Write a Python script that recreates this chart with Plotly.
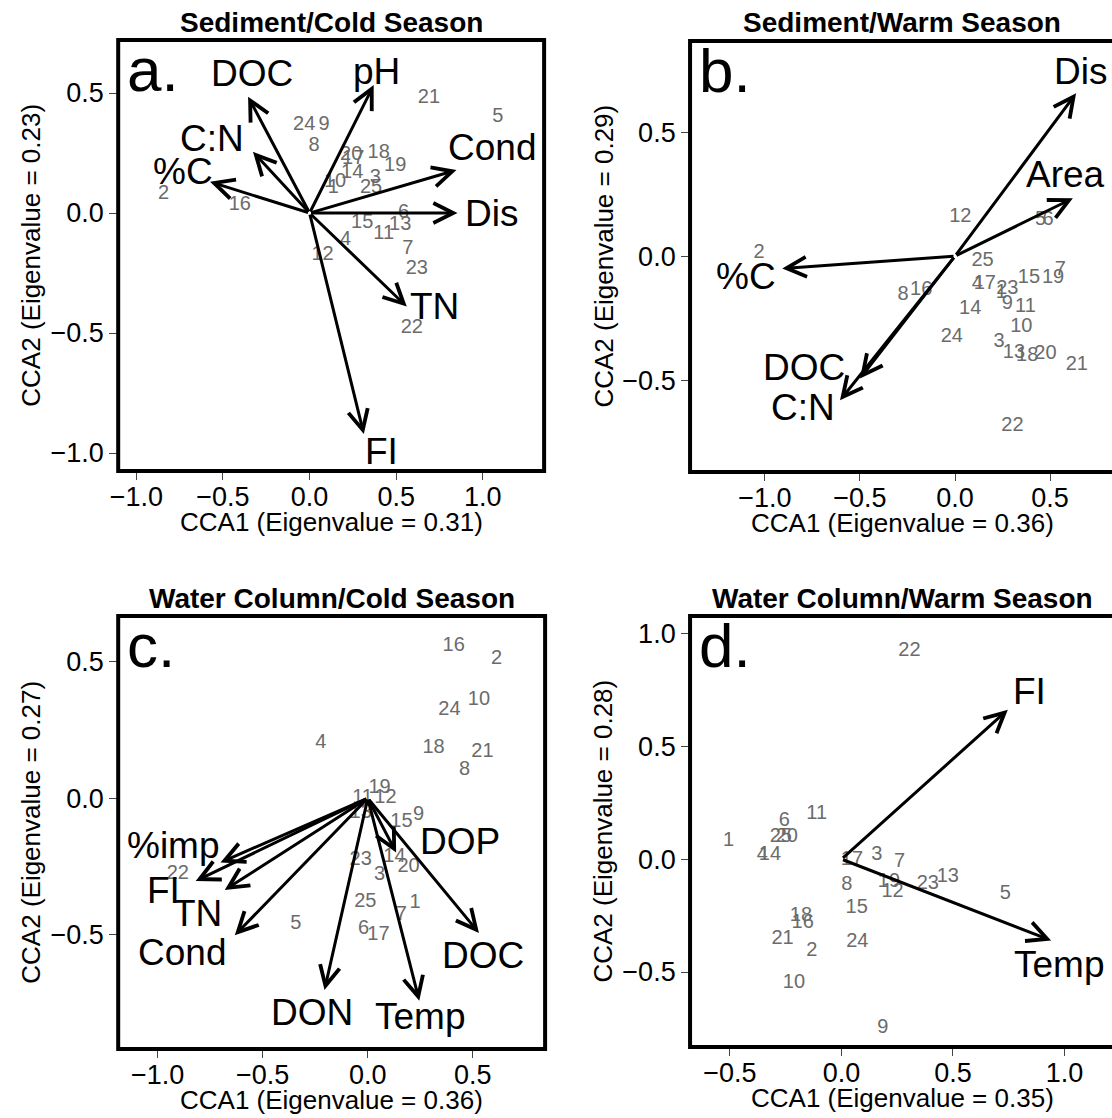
import plotly.graph_objects as go

FONT = "Liberation Sans, Arial, Helvetica, sans-serif"
W, H = 1112, 1118

# ---------------- data ----------------
sites = list(range(1, 26))

# Panel a: Sediment / Cold Season
a_site_x = [0.137, -0.843, 0.38, 0.208, 1.087, 0.542, 0.567, 0.026, 0.084, 0.147,
            0.428, 0.075, 0.523, 0.246, 0.304, -0.403, 0.252, 0.399, 0.494, 0.24,
            0.689, 0.59, 0.619, -0.031, 0.355]
a_site_y = [0.103, 0.079, 0.145, -0.113, 0.399, 0.001, -0.151, 0.279, 0.367, 0.13,
            -0.089, -0.175, -0.05, 0.165, -0.04, 0.033, 0.224, 0.249, 0.196, 0.242,
            0.478, -0.48, -0.235, 0.367, 0.103]
a_vars = ["DOC", "pH", "C:N", "%C", "Cond", "Dis", "TN", "FI"]
a_var_x = [-0.355, 0.370, -0.327, -0.575, 0.848, 0.854, 0.561, 0.313]
a_var_y = [0.485, 0.533, 0.255, 0.130, 0.179, 0.0, -0.390, -0.921]

# Panel b: Sediment / Warm Season
b_site_x = [0.244, -1.031, 0.232, 0.118, 0.450, 0.49, 0.554, -0.273, 0.275, 0.349,
            0.371, 0.028, 0.31, 0.08, 0.389, -0.178, 0.157, 0.38, 0.516, 0.476,
            0.641, 0.302, 0.275, -0.017, 0.145]
b_site_y = [-0.148, 0.011, -0.345, -0.113, 0.145, 0.145, -0.056, -0.157, -0.191, -0.285,
            -0.204, 0.156, -0.392, -0.215, -0.09, -0.137, -0.113, -0.403, -0.09, -0.395,
            -0.44, -0.685, -0.134, -0.325, -0.019]
b_vars = ["%C", "DOC", "C:N", "Area", "Dis"]
b_var_x = [-0.909, -0.5, -0.605, 0.62, 0.637]
b_var_y = [-0.05, -0.493, -0.581, 0.233, 0.656]

# Panel c: Water Column / Cold Season
c_site_x = [0.225, 0.613, 0.056, -0.223, -0.343, -0.02, 0.16, 0.461, 0.242, 0.529,
            -0.025, 0.084, -0.034, 0.127, 0.16, 0.409, 0.051, 0.313, 0.056, 0.194,
            0.546, -0.904, -0.034, 0.389, -0.012]
c_site_y = [-0.382, 0.51, -0.28, 0.203, -0.46, -0.48, -0.427, 0.105, -0.061, 0.361,
            0.0, 0.0, -0.055, -0.214, -0.088, 0.559, -0.499, 0.183, 0.037, -0.251,
            0.171, -0.277, -0.225, 0.324, -0.379]
c_vars = ["%imp", "FI", "TN", "Cond", "DON", "Temp", "DOP", "DOC"]
c_var_x = [-0.701, -0.819, -0.681, -0.633, -0.206, 0.245, 0.135, 0.529]
c_var_y = [-0.235, -0.303, -0.336, -0.502, -0.702, -0.741, -0.199, -0.493]

# Panel d: Water Column / Warm Season
d_site_x = [-0.506, -0.133, 0.158, -0.355, 0.735, -0.256, 0.261, 0.024, 0.185, -0.213,
            -0.111, 0.229, 0.477, -0.321, 0.068, -0.174, 0.047, -0.182, 0.213, -0.245,
            -0.264, 0.305, 0.387, 0.071, -0.272]
d_site_y = [0.079, -0.407, 0.02, 0.02, -0.156, 0.17, -0.014, -0.113, -0.75, -0.549,
            0.201, -0.145, -0.079, 0.02, -0.215, -0.281, -0.003, -0.252, -0.102, 0.099,
            -0.354, 0.92, -0.108, -0.365, 0.099]
d_vars = ["FI", "Temp"]
d_var_x = [0.746, 0.94]
d_var_y = [0.662, -0.36]

titles = ["Sediment/Cold Season", "Sediment/Warm Season",
          "Water Column/Cold Season", "Water Column/Warm Season"]
letters = ["a.", "b.", "c.", "d."]
x_titles = ["CCA1 (Eigenvalue = 0.31)", "CCA1 (Eigenvalue = 0.36)",
            "CCA1 (Eigenvalue = 0.36)", "CCA1 (Eigenvalue = 0.35)"]
y_titles = ["CCA2 (Eigenvalue = 0.23)", "CCA2 (Eigenvalue = 0.29)",
            "CCA2 (Eigenvalue = 0.27)", "CCA2 (Eigenvalue = 0.28)"]

# ---------------- layout / style ----------------
# plot boxes in pixels: left, right, top, bottom
boxes = [(111, 540, 40, 471), (687, 1114, 41, 472),
         (111, 541, 616, 1049), (687, 1114, 616, 1047)]
xranges = [[-1.105, 1.354], [-1.394, 0.826], [-1.188, 0.844], [-0.679, 1.213]]
yranges = [[-1.075, 0.721], [-0.870, 0.867], [-0.918, 0.667], [-0.832, 1.077]]

# label offsets (px; dx right, dy up) relative to arrow tips
label_offsets = [
    {"DOC": (4, 23), "pH": (3, 14), "C:N": (-41, 13), "%C": (-27, 10),
     "Cond": (36, 23), "Dis": (34, 0), "TN": (28, 0), "FI": (18, -17)},
    {"Dis": (4, 22), "Area": (-7, 24), "%C": (-36, -8), "DOC": (-56, 11), "C:N": (-37, -7)},
    {"%imp": (-47, 17), "FI": (-32, -10), "TN": (-27, -23), "Cond": (-53, -17),
     "DON": (-13, -23), "Temp": (1, -16), "DOP": (64, 11), "DOC": (4, -23)},
    {"FI": (22, 18), "Temp": (8, -24)},
]

panels = [
    (a_site_x, a_site_y, a_vars, a_var_x, a_var_y),
    (b_site_x, b_site_y, b_vars, b_var_x, b_var_y),
    (c_site_x, c_site_y, c_vars, c_var_x, c_var_y),
    (d_site_x, d_site_y, d_vars, d_var_x, d_var_y),
]

SITE_COLOR = "#6b6b6b"
TICK_FS = 27
AX_FS = 26
TITLE_FS = 28
VAR_FS = 37
LETTER_FS = 62
SITE_FS = 20

fig = go.Figure()
annotations = []
shapes = []
layout_axes = {}

for i, (sx, sy, vnames, vx, vy) in enumerate(panels):
    n = i + 1
    xid = "x" if n == 1 else f"x{n}"
    yid = "y" if n == 1 else f"y{n}"
    xkey = "xaxis" if n == 1 else f"xaxis{n}"
    ykey = "yaxis" if n == 1 else f"yaxis{n}"
    L, R, T, B = boxes[i]
    xdom = [L / W, min(R / W, 1.0)]
    ydom = [1 - B / H, 1 - T / H]
    dom_w = xdom[1] * W - L

    common = dict(showgrid=False, zeroline=False, showline=False,
                  ticks="outside", ticklen=8, tickwidth=1, tickcolor="#444",
                  dtick=0.5, tick0=0, tickformat=".1f",
                  tickfont=dict(family=FONT, size=TICK_FS, color="black"))
    layout_axes[xkey] = dict(domain=xdom, range=xranges[i], anchor=yid,
                             ticklabelstandoff=-6, **common)
    layout_axes[ykey] = dict(domain=ydom, range=yranges[i], anchor=xid, **common)

    # site labels
    fig.add_trace(go.Scatter(
        x=sx, y=sy, text=[str(s) for s in sites], mode="text",
        textposition="middle center",
        textfont=dict(family=FONT, size=SITE_FS, color=SITE_COLOR),
        xaxis=xid, yaxis=yid, hoverinfo="text", showlegend=False, cliponaxis=False))

    # arrows
    for name, ex, ey in zip(vnames, vx, vy):
        annotations.append(dict(
            x=ex, y=ey, ax=0, ay=0, xref=xid, yref=yid, axref=xid, ayref=yid,
            text="", showarrow=True, arrowhead=5, arrowsize=1.3, arrowwidth=3.0,
            arrowcolor="black", standoff=0, startstandoff=0))
        dx, dy = label_offsets[i][name]
        annotations.append(dict(
            x=ex, y=ey, xref=xid, yref=yid, text=name, showarrow=False,
            xanchor="center", yanchor="middle", xshift=dx, yshift=dy,
            font=dict(family=FONT, size=VAR_FS, color="black")))

    # box
    shapes.append(dict(type="rect", xref=f"{xid} domain", yref=f"{yid} domain",
                       x0=0, x1=(R - L) / dom_w, y0=0, y1=1,
                       line=dict(color="black", width=4),
                       fillcolor="rgba(0,0,0,0)", layer="above"))

    # panel title
    annotations.append(dict(
        x=((L + R) / 2) / W, y=1 - (T - 18) / H, xref="paper", yref="paper",
        text=f"<b>{titles[i]}</b>", showarrow=False, xanchor="center", yanchor="middle",
        font=dict(family=FONT, size=TITLE_FS, color="black")))
    # letter
    annotations.append(dict(
        x=0, y=1, xref=f"{xid} domain", yref=f"{yid} domain", text=letters[i],
        showarrow=False, xanchor="left", yanchor="top", xshift=7, yshift=7,
        font=dict(family=FONT, size=LETTER_FS, color="black")))
    # axis titles
    annotations.append(dict(
        x=((L + R) / 2 - L) / dom_w, y=0, xref=f"{xid} domain", yref=f"{yid} domain",
        text=x_titles[i], showarrow=False, xanchor="center", yanchor="middle",
        yshift=-51, font=dict(family=FONT, size=AX_FS, color="black")))
    annotations.append(dict(
        x=0, y=0.5, xref=f"{xid} domain", yref=f"{yid} domain",
        text=y_titles[i], showarrow=False, xanchor="center", yanchor="middle",
        xshift=-87, textangle=-90, font=dict(family=FONT, size=AX_FS, color="black")))

fig.update_layout(
    width=W, height=H, margin=dict(l=0, r=0, t=0, b=0),
    paper_bgcolor="white", plot_bgcolor="white",
    font=dict(family=FONT), showlegend=False, hovermode=False,
    annotations=annotations, shapes=shapes, **layout_axes)

fig.write_html(
    "out.html",
    config={"displayModeBar": False, "staticPlot": True},
    post_script="document.documentElement.style.margin='0';"
                "document.body.style.margin='0';"
                "document.body.style.padding='0';"
                "document.body.style.overflow='hidden';")
